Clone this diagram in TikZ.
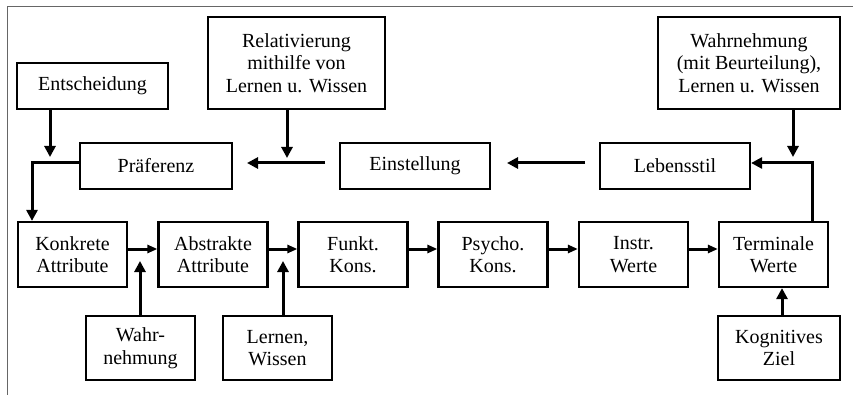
\documentclass[tikz,border=0pt]{standalone}
\usepackage{fontspec}
\setmainfont{Liberation Serif}
\usetikzlibrary{arrows.meta}
\begin{document}
\begin{tikzpicture}[x=1pt,y=-1pt,
  box/.style={draw=black, line width=2.2pt, inner sep=0pt, align=center,
    font=\fontsize{20}{22.5}\selectfont},
  wide/.style={box, minimum height=46pt},
  small/.style={box, minimum width=109pt, minimum height=65pt},
  conn/.style={line width=3pt, -{Triangle[length=11pt,width=11pt]}},
  connh/.style={line width=3pt, -{Triangle[length=10pt,width=8pt]}},
  frameline/.style={draw=gray!80!black, line width=1pt}]
\useasboundingbox (0,0) rectangle (853,395);
\draw[frameline] (7,395) -- (7,7) -- (853,7);
% top row
\node[wide, minimum width=151pt] (ent) at (92.5,86) {Entscheidung};
\node[box, minimum width=177pt, minimum height=92pt] (rel) at (296.5,63) {Relativierung\\mithilfe von\\Lernen u. Wissen};
\node[box, minimum width=182pt, minimum height=92pt] (wbl) at (749,63) {Wahrnehmung\\(mit Beurteilung),\\Lernen u. Wissen};
\node[wide, minimum width=152pt] (pra) at (156,166) {Präferenz};
\node[wide, minimum width=150pt] (ein) at (415,166) {Einstellung};
\node[wide, minimum width=150pt] (leb) at (675,166) {Lebensstil};
% middle row
\node[small] (kon) at (72.5,254.5) {Konkrete\\Attribute};
\node[small] (abs) at (213,254.5) {Abstrakte\\Attribute};
\node[small] (fun) at (353,254.5) {Funkt.\\Kons.};
\node[small] (psy) at (493,254.5) {Psycho.\\Kons.};
\node[small] (ins) at (633.5,254.5) {Instr.\\Werte};
\node[small] (ter) at (773.5,254.5) {Terminale\\Werte};
% bottom row
\node[small, minimum height=64pt] (wah) at (140.5,348) {Wahr-\\nehmung};
\node[small, minimum height=64pt] (ler) at (277.5,348) {Lernen,\\Wissen};
\node[small, minimum width=122pt, minimum height=64pt] (kog) at (779,348) {Kognitives\\Ziel};
% coordinates
\coordinate (entA) at (50,157);
\coordinate (relA) at (287,158);
\coordinate (wblA) at (793,157);
\coordinate (praL) at (32,163);
\coordinate (einS) at (325,163);
\coordinate (einE) at (247,163);
\coordinate (lebS) at (585,163);
\coordinate (lebE) at (507,163);
\coordinate (terC) at (812,163);
\coordinate (wahA) at (140,261);
\coordinate (lerA) at (283,261);
% top arrows
\draw[conn] (ent.south -| entA) -- (entA);
\draw[conn] (rel.south -| relA) -- (relA);
\draw[conn] (wbl.south -| wblA) -- (wblA);
\draw[conn] (pra.west |- praL) -- (praL) -- (kon.north -| praL);
\draw[conn] (einS) -- (einE);
\draw[conn] (lebS) -- (lebE);
\draw[conn] (ter.north -| terC) -- (terC) -- (leb.east |- terC);
% middle arrows
\draw[connh] ([yshift=5.5pt]kon.east) -- ([yshift=5.5pt]abs.west);
\draw[connh] ([yshift=5.5pt]abs.east) -- ([yshift=5.5pt]fun.west);
\draw[connh] ([yshift=5.5pt]fun.east) -- ([yshift=5.5pt]psy.west);
\draw[connh] ([yshift=5.5pt]psy.east) -- ([yshift=5.5pt]ins.west);
\draw[connh] ([yshift=5.5pt]ins.east) -- ([yshift=5.5pt]ter.west);
% bottom arrows
\draw[conn] (wah.north -| wahA) -- (wahA);
\draw[conn] (ler.north -| lerA) -- (lerA);
\draw[conn] (kog.north -| 782,0) -- (ter.south -| 782,0);
\end{tikzpicture}
\end{document}
